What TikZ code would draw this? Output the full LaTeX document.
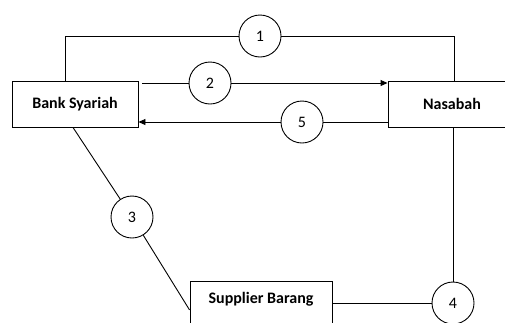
\documentclass[tikz,border=0pt]{standalone}
\usepackage{fontspec}
\setmainfont{Carlito}
\usetikzlibrary{arrows.meta}
\begin{document}
\begin{tikzpicture}[x=1pt,y=-1pt,line width=0.9pt,
  box/.style={draw,rectangle,font=\fontsize{16}{18}\selectfont\bfseries,inner sep=0pt},
  num/.style={draw,circle,minimum size=42pt,inner sep=0pt,font=\fontsize{16}{18}\selectfont},
  arr/.style={-{Triangle[length=7pt,width=6pt]}}]
\useasboundingbox (0,0) rectangle (505,322);
\node[box,minimum width=126pt,minimum height=46pt] (bank) at (75,104) {Bank Syariah};
\node[box,minimum width=128pt,minimum height=46pt] (nasabah) at (452,104) {Nasabah};
\node[box,anchor=north,minimum width=142pt,inner ysep=11pt,text height=11pt,text depth=16pt] (supplier) at (261,281) {Supplier Barang};
\node[num] (c1) at (260,36) {1};
\node[num] (c2) at (210,83) {2};
\node[num] (c3) at (132,217) {3};
\node[num] (c4) at (453,303) {4};
\node[num] (c5) at (302,122) {5};
% line 1
\draw ([xshift=-10pt]bank.north) |- (c1.west);
\draw (c1.east) -| ([xshift=2pt]nasabah.north);
% arrow 2
\draw ([xshift=4pt]bank.north east |- c2) -- (c2);
\draw[arr] (c2) -- (c2 -| nasabah.west);
% arrow 5
\draw (nasabah.west |- c5) -- (c5);
\draw[arr] (c5) -- (c5 -| bank.east);
% line 3
\draw ([xshift=-2pt]bank.south) -- (c3);
\draw (c3) -- ([yshift=-4pt]supplier.west);
% line 4
\draw (supplier.east |- c4) -- (c4);
\draw (c4 |- nasabah.south) -- (c4);
\end{tikzpicture}
\end{document}
